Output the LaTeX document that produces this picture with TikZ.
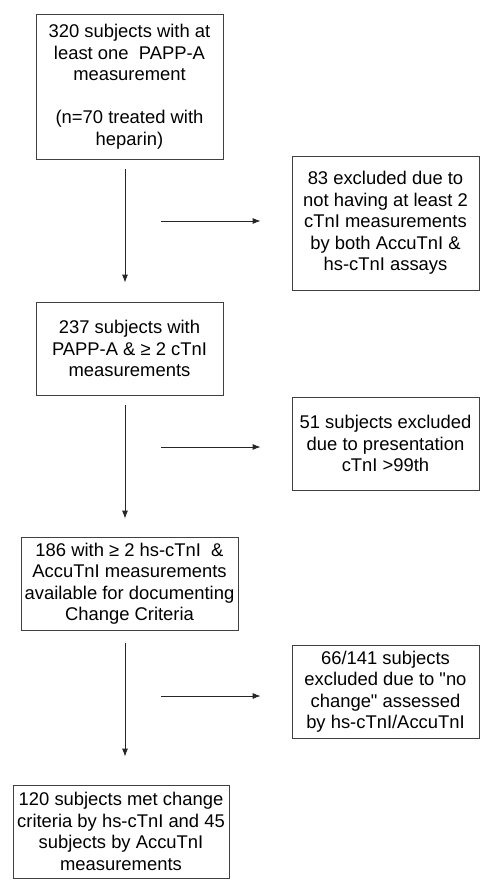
\documentclass[tikz,border=0pt]{standalone}
\usepackage{fontspec}
\setmainfont{Liberation Sans}
\usetikzlibrary{arrows.meta,calc}

\begin{document}
\begin{tikzpicture}[x=1pt,y=-1pt]
	\tikzstyle{every node} = [draw=black!75, line width=0.8pt, align=center, inner sep=0pt, font=\fontsize{18.4}{21.5}\selectfont]
	\tikzstyle{flow} = [-{Latex[length=8pt,width=6pt]}, line width=0.8pt, black!85]
	\useasboundingbox (0,0) rectangle (491,892);
	\node[minimum width=187pt, minimum height=145pt] (all) at (129.5,86.5) {320 subjects with at\\ least one~ PAPP-A\\ measurement\\[21.5pt] (n=70 treated with\\ heparin)};
	\node[minimum width=187pt, minimum height=134pt] (excla) at (385.5,223) {83 excluded due to\\ not having at least 2\\ cTnI measurements\\ by both AccuTnI \&\\ hs-cTnI assays};
	\node[minimum width=187pt, minimum height=93pt] (pappa) at (129.5,348.5) {237 subjects with\\ PAPP-A \& ≥ 2 cTnI\\ measurements};
	\node[minimum width=187pt, minimum height=93pt] (exclb) at (385.5,443.5) {51 subjects excluded\\ due to presentation\\ cTnI >99th};
	\node[minimum width=217pt, minimum height=93pt] (crit) at (129.5,583.5) {186 with ≥ 2 hs-cTnI~ \&\\ AccuTnI measurements\\ available for documenting\\ Change Criteria};
	\node[minimum width=187pt, minimum height=93pt] (exclc) at (385.5,691.5) {66/141 subjects\\ excluded due to \textquotedbl no\\ change\textquotedbl{} assessed\\ by hs-cTnI/AccuTnI};
	\node[minimum width=216pt, minimum height=93pt] (met) at (121,831.5) {120 subjects met change\\ criteria by hs-cTnI and 45\\ subjects by AccuTnI\\ measurements};
	% main flow
	\draw[flow, shorten <=10pt, shorten >=19pt] ([xshift=-4.5pt]all.south) -- ([xshift=-4.5pt]pappa.north);
	\draw[flow, shorten <=10pt, shorten >=18pt] ([xshift=-4.5pt]pappa.south) -- ([xshift=-4.5pt]crit.north);
	\draw[flow, shorten <=13pt, shorten >=28pt] ([xshift=-4.5pt]crit.south) -- ([xshift=-4.5pt]crit.south |- met.north);
	% exclusions
	\coordinate (ha) at (161,221);
	\coordinate (hb) at (161,447);
	\coordinate (hc) at (161,696);
	\draw[flow, shorten >=31pt] (ha) -- (ha -| excla.west);
	\draw[flow, shorten >=31pt] (hb) -- (hb -| exclb.west);
	\draw[flow, shorten >=31pt] (hc) -- (hc -| exclc.west);
\end{tikzpicture}
\end{document}
